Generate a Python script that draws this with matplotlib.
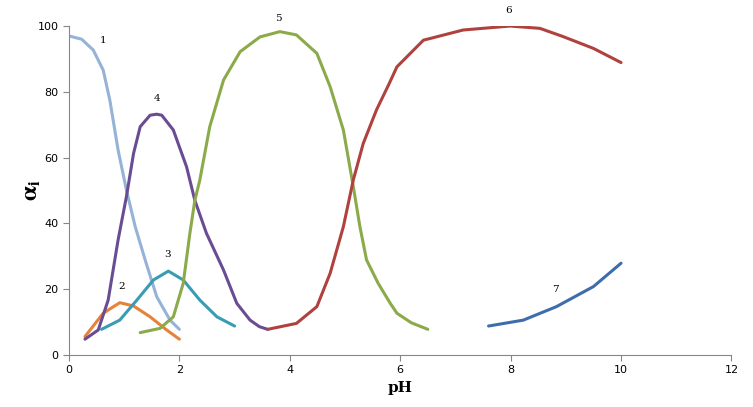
import matplotlib
matplotlib.use("Agg")
import matplotlib.pyplot as plt

plt.rcParams['mathtext.fontset'] = 'stix'

# species distribution curves
ph1 = [0.0, 0.23, 0.44, 0.62, 0.74, 0.89, 1.04, 1.2, 1.38, 1.59, 1.83, 2.0]
a1 = [97, 96, 92.7, 86.6, 77.5, 62.3, 50.2, 39, 28.9, 17.7, 10.6, 7.8]

ph2 = [0.29, 0.62, 0.92, 1.17, 1.47, 1.77, 2.0]
a2 = [5.6, 12.7, 15.9, 14.9, 11.6, 7.6, 4.8]

ph3 = [0.59, 0.92, 1.23, 1.53, 1.8, 2.07, 2.37, 2.68, 3.0]
a3 = [7.8, 10.6, 16.7, 22.8, 25.5, 22.8, 16.7, 11.6, 8.8]

ph4 = [0.29, 0.53, 0.71, 0.89, 1.04, 1.17, 1.29, 1.47, 1.59, 1.68, 1.89, 2.13, 2.28,
       2.49, 2.8, 3.04, 3.28, 3.45, 3.6]
a4 = [4.8, 7.6, 16.7, 35, 48.1, 61.3, 69.4, 72.9, 73.2, 72.9, 68.4, 57.2, 47,
      37, 25.8, 15.7, 10.6, 8.6, 7.8]

ph5 = [1.29, 1.65, 1.89, 2.07, 2.19, 2.28, 2.37, 2.55, 2.8, 3.1, 3.46, 3.82, 4.12,
       4.49, 4.73, 4.97, 5.15, 5.27, 5.39, 5.6, 5.82, 5.94, 6.2, 6.5]
a5 = [6.8, 8.1, 11.6, 21.8, 37, 47, 53.2, 69.4, 83.6, 92.2, 96.7, 98.3, 97.3,
      91.7, 81.6, 68.4, 51.2, 39, 28.9, 21.8, 15.7, 12.7, 9.8, 7.8]

ph6 = [3.6, 4.12, 4.49, 4.73, 4.97, 5.15, 5.33, 5.57, 5.8, 5.94, 6.42, 7.14, 7.99,
       8.53, 8.95, 9.5, 10.0]
a6 = [7.8, 9.6, 14.7, 24.8, 39, 53.2, 64.3, 74.5, 82.5, 87.6, 95.7, 98.8, 100,
      99.3, 96.8, 93.2, 88.9]

ph7 = [7.6, 8.23, 8.83, 9.5, 10.0]
a7 = [8.8, 10.6, 14.7, 20.8, 27.9]

series = [(ph1, a1), (ph2, a2), (ph3, a3), (ph4, a4), (ph5, a5), (ph6, a6), (ph7, a7)]
colors = ['#95B3D7', '#E6823A', '#3A9CB3', '#6A4C93', '#8BAA4A', '#AF423F', '#3D6DAA']

labels = ['1', '2', '3', '4', '5', '6', '7']
label_x = [0.61, 0.96, 1.78, 1.6, 3.79, 7.97, 8.82]
label_y = [95.5, 20.7, 30.7, 78, 102.4, 104.6, 19.8]

fig = plt.figure(figsize=(7.53, 4.07), dpi=100)
ax = fig.add_axes([0.0916, 0.1278, 0.8798, 0.8082])

for (x, y), c in zip(series, colors):
    ax.plot(x, y, color=c, lw=2.2, solid_capstyle='round', solid_joinstyle='round')

for t, x, y in zip(labels, label_x, label_y):
    ax.text(x, y, t, fontsize=7.5, family='serif', ha='center', va='center', clip_on=False)

ax.set_xlim(0, 12)
ax.set_ylim(0, 100)
ax.set_xticks(range(0, 13, 2))
ax.set_yticks(range(0, 101, 20))
for s in ['top', 'right']:
    ax.spines[s].set_visible(False)
for s in ['left', 'bottom']:
    ax.spines[s].set_color('#868686')
ax.tick_params(direction='out', length=4, color='#868686', labelsize=8)
ax.set_xlabel('pH', family='serif', fontweight='bold', fontsize=11)
ax.set_ylabel(r'$\mathbf{\alpha}_\mathbf{i}$', fontsize=17, labelpad=-4)

plt.savefig('out.png', dpi=100)
